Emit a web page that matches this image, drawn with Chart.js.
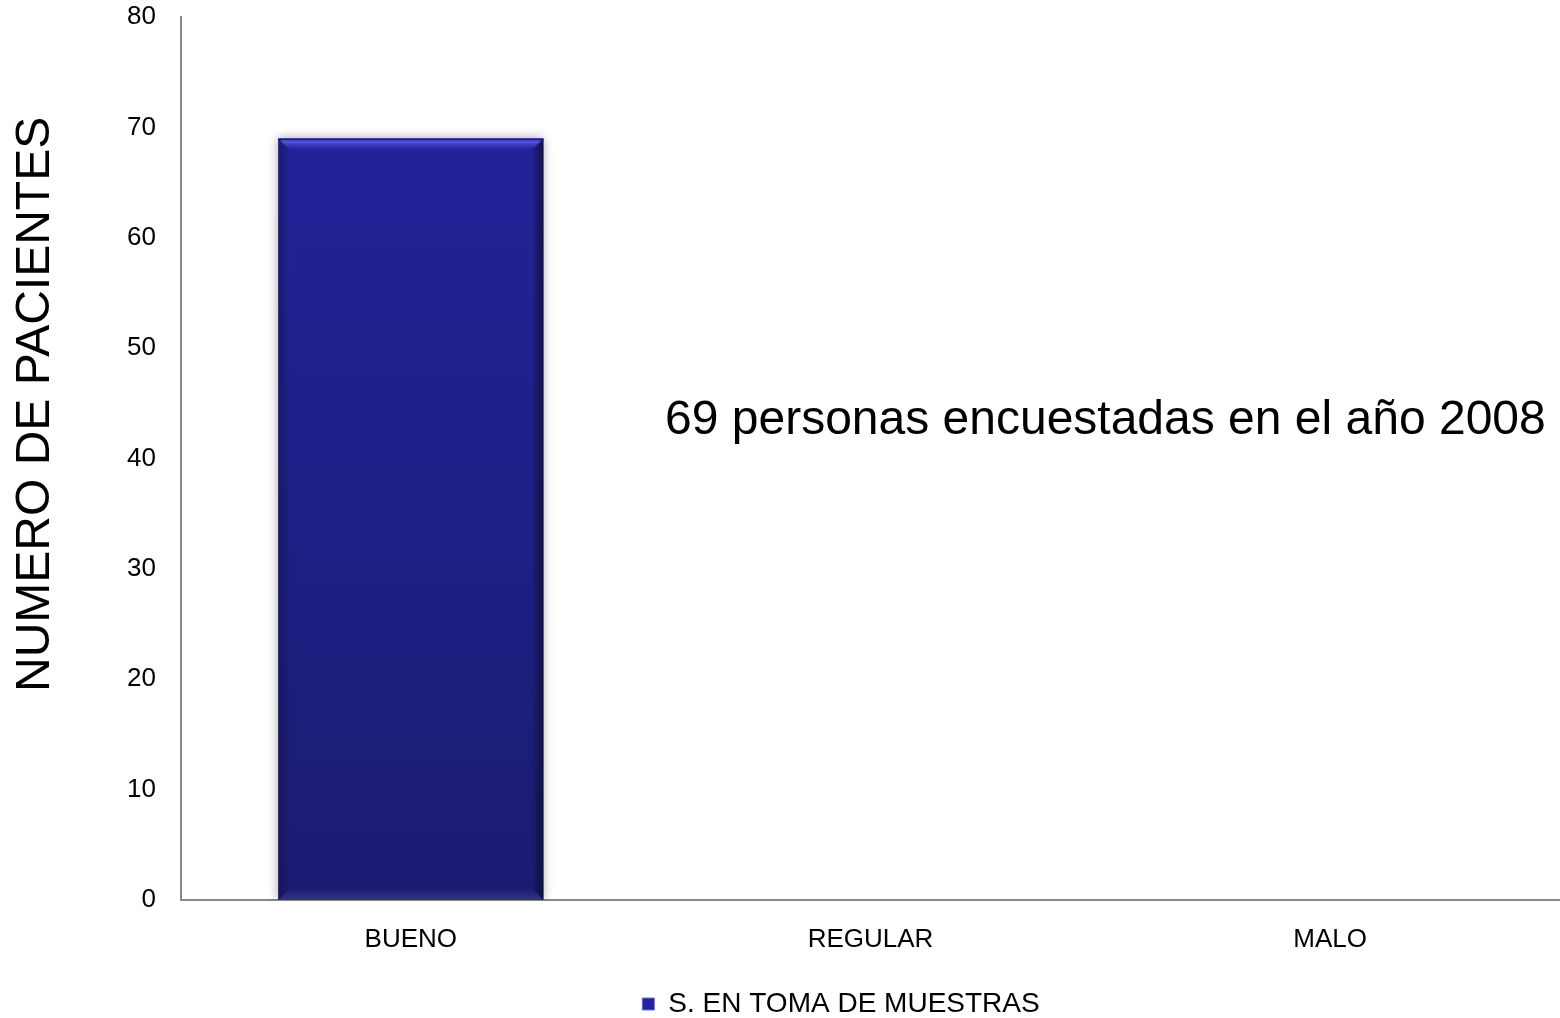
<!DOCTYPE html>
<html><head><meta charset="utf-8">
<script src="https://cdn.jsdelivr.net/npm/chart.js@4.4.1/dist/chart.umd.min.js"></script>
<style>html,body{margin:0;padding:0;background:#fff}#wrap{width:1560px;height:1018px;position:relative}</style>
</head><body><div id="wrap"><canvas id="c"></canvas></div>
<script>
const categories = ["BUENO", "REGULAR", "MALO"];
const seriesName = "S. EN TOMA DE MUESTRAS";
const seriesValues = [69, 0, 0];
const yMin = 0, yMax = 80, yStep = 10;
const yTitle = "NUMERO DE PACIENTES";
const noteText = "69 personas encuestadas en el año 2008";

const FONT = "'Liberation Sans', Arial, sans-serif";

function barGradient(ctx) {
  const chart = ctx.chart;
  const area = chart.chartArea;
  if (!area) return '#22229a';
  const g = chart.ctx.createLinearGradient(0, area.top, 0, area.bottom);
  g.addColorStop(0, '#2424a0');
  g.addColorStop(1, '#1b1b72');
  return g;
}

const bevelPlugin = {
  id: 'bevel',
  beforeDatasetsDraw(chart) {
    const c = chart.ctx;
    c.save();
    c.shadowColor = 'rgba(0,0,0,0.35)';
    c.shadowBlur = 10;
    c.shadowOffsetX = 0;
    c.shadowOffsetY = 0;
  },
  afterDatasetsDraw(chart) {
    const c = chart.ctx;
    c.restore();
    const meta = chart.getDatasetMeta(0);
    meta.data.forEach(bar => {
      const h = bar.base - bar.y;
      if (h < 2) return;
      const l = bar.x - bar.width / 2, r = bar.x + bar.width / 2, t = bar.y, b = bar.base;
      const bv = 12;
      c.save();
      let g = c.createLinearGradient(0, t, 0, t + bv);
      g.addColorStop(0, 'rgba(110,110,235,0.9)');
      g.addColorStop(0.35, 'rgba(90,90,220,0.8)');
      g.addColorStop(1, 'rgba(60,60,200,0)');
      c.fillStyle = g;
      c.beginPath();
      c.moveTo(l, t); c.lineTo(r, t); c.lineTo(r - bv, t + bv); c.lineTo(l + bv, t + bv); c.closePath();
      c.fill();
      c.fillStyle = '#1c1c8a';
      c.fillRect(l, t, r - l, 2);
      g = c.createLinearGradient(r, 0, r - bv, 0);
      g.addColorStop(0, 'rgba(10,10,40,0.7)');
      g.addColorStop(1, 'rgba(10,10,40,0)');
      c.fillStyle = g;
      c.beginPath();
      c.moveTo(r, t); c.lineTo(r, b); c.lineTo(r - bv, b - bv); c.lineTo(r - bv, t + bv); c.closePath();
      c.fill();
      g = c.createLinearGradient(l, 0, l + bv, 0);
      g.addColorStop(0, 'rgba(10,10,40,0.35)');
      g.addColorStop(1, 'rgba(10,10,40,0)');
      c.fillStyle = g;
      c.beginPath();
      c.moveTo(l, t); c.lineTo(l + bv, t + bv); c.lineTo(l + bv, b - bv); c.lineTo(l, b); c.closePath();
      c.fill();
      g = c.createLinearGradient(0, b, 0, b - bv);
      g.addColorStop(0, 'rgba(80,80,150,0.45)');
      g.addColorStop(1, 'rgba(80,80,150,0)');
      c.fillStyle = g;
      c.beginPath();
      c.moveTo(l, b); c.lineTo(r, b); c.lineTo(r - bv, b - bv); c.lineTo(l + bv, b - bv); c.closePath();
      c.fill();
      c.restore();
    });
  }
};

const textPlugin = {
  id: 'texts',
  afterLayout(chart) {
    // shift legend so it sits where the original places it
    const lg = chart.legend;
    if (lg) {
      const dx = 61, dy = 10;
      lg.left += dx; lg.right += dx;
      lg.top += dy; lg.bottom += dy;
    }
  },
  afterDraw(chart) {
    const c = chart.ctx;
    const xs = chart.scales.x, ys = chart.scales.y;
    c.save();
    c.font = `48px ${FONT}`;
    c.fillStyle = '#000';
    c.textAlign = 'left';
    c.textBaseline = 'middle';
    const x = xs.getPixelForValue(0) + (xs.getPixelForValue(1) - xs.getPixelForValue(0)) * 0.553;
    c.fillText(noteText, x, ys.getPixelForValue(43.45));
    c.translate(ys.left + 36, ys.getPixelForValue(44.9));
    c.rotate(-Math.PI / 2);
    c.textAlign = 'center';
    c.font = `48px ${FONT}`;
    c.fillText(yTitle, 0, 0);
    c.restore();
  }
};

const ctx = document.getElementById('c').getContext('2d');
new Chart(ctx, {
  type: 'bar',
  data: {
    labels: categories,
    datasets: [{
      label: seriesName,
      data: seriesValues,
      backgroundColor: barGradient,
      borderWidth: 0,
      barPercentage: 0.577,
      categoryPercentage: 1.0
    }]
  },
  options: {
    responsive: true,
    maintainAspectRatio: false,
    animation: false,
    layout: { padding: { top: 17, right: 0, left: 0, bottom: 0 } },
    plugins: {
      legend: {
        position: 'bottom',
        labels: {
          font: { family: FONT, size: 28 },
          color: '#000',
          boxWidth: 12,
          boxHeight: 12,
          padding: 2,
          generateLabels(chart) {
            return [{
              text: seriesName,
              fillStyle: '#2424a0',
              strokeStyle: '#6a6ad8',
              lineWidth: 1,
              hidden: false,
              datasetIndex: 0,
              fontColor: '#000'
            }];
          }
        }
      },
      tooltip: { enabled: false }
    },
    scales: {
      x: {
        grid: { display: false, drawTicks: false },
        border: { display: true, color: '#888888', width: 2 },
        ticks: { font: { family: FONT, size: 26 }, color: '#000', padding: 24, maxRotation: 0 },
        afterFit(scale) { scale.height = 78; scale.paddingLeft = 0; scale.paddingRight = 0; }
      },
      y: {
        min: yMin, max: yMax,
        grid: { display: false, drawTicks: false },
        border: { display: true, color: '#888888', width: 2 },
        ticks: { stepSize: yStep, font: { family: FONT, size: 26 }, color: '#000', padding: 25 },
        title: { display: false },
        afterFit(scale) { scale.width = 181; scale.paddingTop = 0; scale.paddingBottom = 0; }
      }
    }
  },
  plugins: [bevelPlugin, textPlugin]
});
</script>
</body></html>
